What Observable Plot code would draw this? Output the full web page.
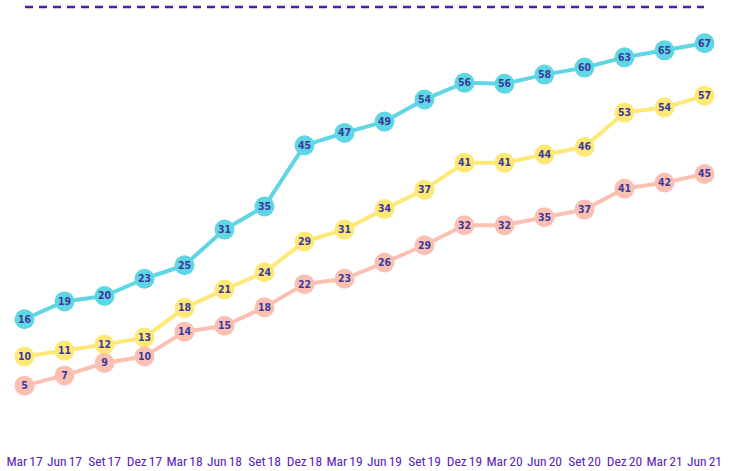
<!DOCTYPE html>
<html>
<head>
<meta charset="utf-8">
<script src="https://cdn.jsdelivr.net/npm/d3@7"></script>
<script src="https://cdn.jsdelivr.net/npm/@observablehq/plot@0.6"></script>
<style>
  html, body { margin: 0; padding: 0; background: #fff; }
  #chart { width: 737px; }
  #chart svg { display: block; }
  #chart svg text { font-stretch: condensed; word-spacing: -1px; }
</style>
</head>
<body>
<div id="chart"></div>
<script>
const periods = ["Mar 17","Jun 17","Set 17","Dez 17","Mar 18","Jun 18","Set 18","Dez 18","Mar 19","Jun 19","Set 19","Dez 19","Mar 20","Jun 20","Set 20","Dez 20","Mar 21","Jun 21"];

// displayed labels
const topLabels    = [16,19,20,23,25,31,35,45,47,49,54,56,56,58,60,63,65,67];
const middleLabels = [10,11,12,13,18,21,24,29,31,34,37,41,41,44,46,53,54,57];
const bottomLabels = [5,7,9,10,14,15,18,22,23,26,29,32,32,35,37,41,42,45];

// plotted levels (chart units)
const topLevels    = [16.9,20.2,21.2,24.4,26.9,33.5,37.8,49.1,51.4,53.5,57.6,60.7,60.5,62.2,63.5,65.4,66.7,68.0];
const middleLevels = [10.0,11.1,12.2,13.5,19.0,22.4,25.6,31.3,33.5,37.3,40.9,45.9,45.9,47.4,48.8,55.2,56.1,58.3];
const bottomLevels = [4.6,6.5,8.8,10.0,14.6,15.7,19.1,23.4,24.4,27.4,30.6,34.3,34.3,35.8,37.2,41.1,42.2,43.8];

const seriesNames = ["Série A","Série B","Série C"];
const colors = ["#5fd6e4","#ffe874","#fbc0b2"];

const rows = [];
[[topLevels, topLabels], [middleLevels, middleLabels], [bottomLevels, bottomLabels]].forEach(([lv, lb], s) => {
  periods.forEach((p, i) => rows.push({series: seriesNames[s], period: p, value: lv[i], label: lb[i]}));
});

// header dashed rule
const header = d3.create("svg").attr("width", 737).attr("height", 14);
header.append("line")
  .attr("x1", 25).attr("x2", 704).attr("y1", 7).attr("y2", 7)
  .attr("stroke", "#4b1fa3").attr("stroke-width", 2.5)
  .attr("stroke-dasharray", "8,6");

const plot = Plot.plot({
  width: 737,
  height: 457,
  marginLeft: 23,
  marginRight: 32,
  marginTop: 18,
  marginBottom: 61,
  style: {fontFamily: "'DejaVu Sans', sans-serif", background: "#fff"},
  x: {type: "point", domain: periods, padding: 0, label: null},
  y: {domain: [0, 70], axis: null},
  color: {type: "ordinal", domain: seriesNames, range: colors},
  marks: [
    Plot.line(rows, {x: "period", y: "value", z: "series", stroke: "series", strokeWidth: 4}),
    Plot.dot(rows, {x: "period", y: "value", fill: "series", r: 10, stroke: null}),
    Plot.text(rows, {x: "period", y: "value", text: "label", fill: "#3b3a9a", fontSize: 10.5, fontWeight: "bold"}),
    Plot.axisX({tickSize: 0, tickPadding: 46, fontSize: 13.5, color: "#5a22b6", label: null, fontFamily: "Roboto, sans-serif"})
  ]
});

const root = document.getElementById("chart");
root.appendChild(header.node());
root.appendChild(plot);
</script>
</body>
</html>
